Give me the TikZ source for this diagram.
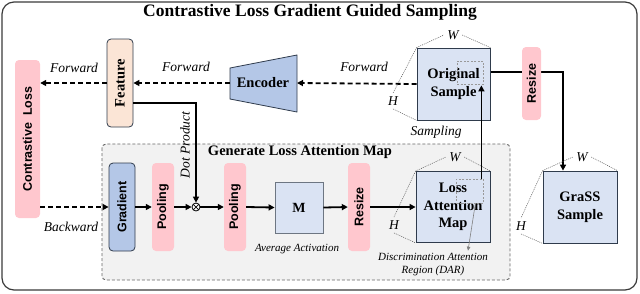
\documentclass[tikz,border=0pt]{standalone}
\usepackage{fontspec}
\setmainfont{Liberation Serif}
\setsansfont{Liberation Sans}
\usetikzlibrary{arrows.meta,calc}
\definecolor{pinkc}{HTML}{FFC7CE}
\definecolor{peachc}{HTML}{FBE5D6}
\definecolor{bluec}{HTML}{B4C7E7}
\definecolor{lbluec}{HTML}{DAE3F3}
\definecolor{edgec}{HTML}{2F3B4C}
\definecolor{framec}{HTML}{3A3A3A}
\definecolor{innerc}{HTML}{F2F2F2}
\pgfdeclarelayer{bg}\pgfdeclarelayer{mid}\pgfsetlayers{bg,mid,main}
\begin{document}
\begin{tikzpicture}[x=1pt,y=-1pt,
  pinkbox/.style={fill=pinkc, rounded corners=4pt, inner sep=0pt},
  featbox/.style={fill=peachc, draw=edgec, line width=0.8pt, rounded corners=4pt, inner sep=0pt},
  bluebox/.style={fill=bluec, draw=edgec, line width=0.8pt, rounded corners=4pt, inner sep=0pt},
  imgbox/.style={fill=lbluec, draw=edgec, line width=0.8pt, inner sep=0pt, align=center,
     font=\bfseries\fontsize{14.5}{17.5}\selectfont},
  darbox/.style={draw=gray!80, dash pattern=on 2pt off 1.5pt, line width=0.8pt, inner sep=0pt},
  sanslab/.style={rotate=90, font=\sffamily\bfseries\fontsize{12.5}{14}\selectfont},
  serlab/.style={font=\bfseries\fontsize{14.5}{17}\selectfont},
  itlab/.style={font=\itshape\fontsize{13.5}{16}\selectfont},
  smallit/.style={font=\itshape\fontsize{11}{14}\selectfont, align=center},
  dasharrow/.style={line width=1.8pt, dash pattern=on 5pt off 3pt, -{Triangle[length=6pt,width=6pt]}},
  solidarrow/.style={line width=1.8pt, -{Triangle[length=6pt,width=6pt]}},
  markline/.style={gray!70!black, line width=0.5pt, dash pattern=on 1pt off 1pt},
]
\useasboundingbox (0,0) rectangle (640,293);

% title
\node[font=\bfseries\fontsize{17.5}{20}\selectfont] (title) at (310,12) {Contrastive Loss Gradient Guided Sampling};

% top row
\node[pinkbox, minimum width=25pt, minimum height=158pt] (cl) at (27.5,139) {};
\node[sanslab] at (cl) {Contrastive\ \ Loss};
\node[featbox, minimum width=26pt, minimum height=88pt] (feat) at (120,83) {};
\node[serlab, rotate=90] at (feat) {Feature};
\draw[fill=bluec, draw=edgec, line width=0.8pt] (230,68) -- (297,55) -- (297,112) -- (230,99) -- cycle;
\coordinate (encW) at (230,83);
\coordinate (encE) at (297,83);
\node[serlab] (enc) at (263,83) {Encoder};
\node[imgbox, minimum width=73pt, minimum height=72pt] (orig) at (453.5,84) {Original\\Sample};
\node[darbox, minimum width=26pt, minimum height=23pt] (dar1) at (470,72.5) {};
\node[pinkbox, minimum width=19pt, minimum height=73pt] (rs2) at (531.5,83.5) {};
\node[sanslab] at (rs2) {Resize};
\node[imgbox, minimum width=74pt, minimum height=72pt] (grass) at (580,207) {GraSS\\Sample};

% inner group
\begin{pgfonlayer}{bg}
\draw[framec, line width=1.2pt, rounded corners=12pt] (2,2) rectangle (637,290);
\draw[fill=innerc, draw=gray!80!black, line width=0.9pt, dash pattern=on 3pt off 2pt, rounded corners=4pt] (102,144) rectangle (510,280);
\end{pgfonlayer}
\node[font=\bfseries\fontsize{14.5}{17}\selectfont] (gtitle) at (300,152) {Generate Loss Attention Map};
\node[bluebox, minimum width=26pt, minimum height=88pt] (grad) at (122,207) {};
\node[sanslab] at (grad) {Gradient};
\node[pinkbox, minimum width=22pt, minimum height=88pt] (pool1) at (163,207) {};
\node[sanslab] at (pool1) {Pooling};
\node[circle, draw, line width=0.8pt, minimum size=8pt, inner sep=0pt, fill=white,
  path picture={\draw[line width=0.7pt] (path picture bounding box.north west) -- (path picture bounding box.south east)
  (path picture bounding box.north east) -- (path picture bounding box.south west);}] (ot) at (196,207) {};
\node[pinkbox, minimum width=22pt, minimum height=88pt] (pool2) at (235,207) {};
\node[sanslab] at (pool2) {Pooling};
\node[imgbox, draw=edgec!70, minimum width=48pt, minimum height=51pt, font=\bfseries\fontsize{14}{16}\selectfont] (m) at (299,207.5) {M};
\node[pinkbox, minimum width=22pt, minimum height=88pt] (rs1) at (359,207) {};
\node[sanslab] at (rs1) {Resize};
\node[imgbox, minimum width=74pt, minimum height=71pt] (lam) at (453,207) {Loss\\Attention\\Map};
\draw[edgec, line width=1.6pt] (lam.north east) -- (lam.south east);
\node[darbox, minimum width=27pt, minimum height=24pt] (dar2) at (469.5,191) {};

% labels
\node[itlab] (f1) at (74,68) {Forward};
\node[itlab] (f2) at (186,67) {Forward};
\node[itlab] (f3) at (364,67) {Forward};
\node[itlab] (bw) at (71,227) {Backward};
\node[itlab, rotate=90] (dp) at (185,145) {Dot Product};
\node[itlab] (samp) at (436,132) {Sampling};
\node[smallit] (avg) at (297,249) {Average Activation};
\node[smallit] (darl) at (433,264.5) {Discrimination Attention\\[-1pt]Region (DAR)};
\node[itlab] (w1) at (453,35) {W};
\node[itlab] (h1) at (393,101) {H};
\node[itlab] (w2) at (455,157) {W};
\node[itlab] (h2) at (394,225) {H};
\node[itlab] (w3) at (582,157) {W};
\node[itlab] (h3) at (521,226) {H};

% W/H marker lines
\draw[markline] (orig.north west) -- (w1.west) (w1.east) -- (orig.north east);
\draw[markline] (orig.north west) -- (h1.north) (h1.south) -- (orig.south west);
\draw[markline] (lam.north west) -- (w2.west) (w2.east) -- (lam.north east);
\draw[markline] (lam.north west) -- (h2.north) (h2.south) -- (lam.south west);
\draw[markline] (grass.north west) -- (w3.west) (w3.east) -- (grass.north east);
\draw[markline] (grass.north west) -- (h3.north) (h3.south) -- (grass.south west);

% connectors
\draw[dasharrow] (orig.west) -- (encE);
\draw[dasharrow] (encW) -- (feat.east);
\draw[dasharrow] (feat.west) -- (feat.west -| cl.east);
\draw[dasharrow] (cl.east |- grad.west) -- (grad.west);
\draw[solidarrow] (grad.east) -- (pool1.west);
\draw[solidarrow] (pool1.east) -- (ot.west);
\draw[solidarrow] (ot.east) -- (pool2.west);
\draw[solidarrow] (pool2.east) -- (m.west);
\draw[solidarrow] (m.east) -- (rs1.west);
\draw[solidarrow] (rs1.east) -- (lam.west);
\draw[solidarrow] ([yshift=-20pt]feat.east) -| (ot.north);
\draw[solidarrow] ([xshift=-2pt]dar2.north east) -- ([xshift=-2pt,yshift=-1pt]dar1.south east);
\begin{pgfonlayer}{mid}
\draw[solidarrow] ([yshift=12pt]orig.east) -| ([xshift=-17pt]grass.north);
\end{pgfonlayer}
\draw[gray, line width=0.6pt, -{Triangle[length=4pt,width=3.5pt]}] ([xshift=-8pt]dar2.south east) -- ([xshift=35pt,yshift=-1pt]darl.north);
\end{tikzpicture}
\end{document}
